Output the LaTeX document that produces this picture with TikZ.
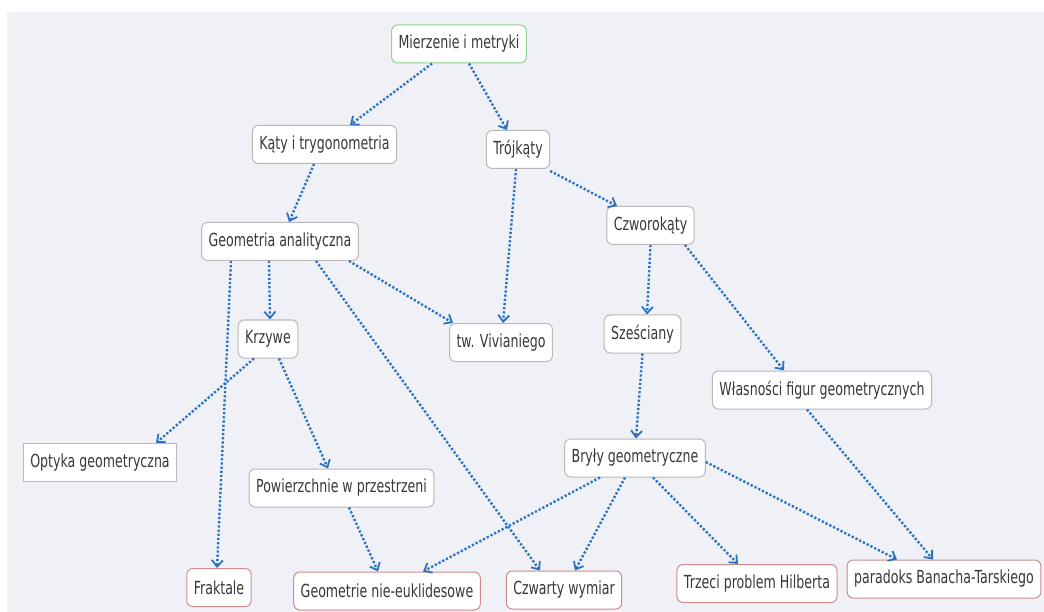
\documentclass[tikz,border=0pt]{standalone}
\usepackage{fontspec}
\setmainfont{DejaVu Sans}[FakeStretch=0.70]
\usetikzlibrary{arrows.meta}
\definecolor{bgpane}{HTML}{F0F1F7}
\definecolor{linkblue}{HTML}{2B72C2}
\definecolor{boxgray}{HTML}{B8B8B8}
\definecolor{rootgreen}{HTML}{8ED38E}
\definecolor{leafred}{HTML}{D08C8C}
\definecolor{txtgray}{HTML}{383838}
\tikzset{
  topicbox/.style={draw=boxgray,line width=1pt,fill=white,rounded corners=6pt,minimum height=38pt,inner xsep=7pt,text=txtgray,font=\fontsize{18}{21}\selectfont},
  rootbox/.style={topicbox,draw=rootgreen},
  leafbox/.style={topicbox,draw=leafred},
  squarebox/.style={topicbox,sharp corners},
  link/.style={linkblue,line width=2.4pt,dash pattern=on 2.2pt off 2pt,-{Straight Barb[length=6.5pt,width=11pt,line width=1.8pt]}}
}
\begin{document}
\begin{tikzpicture}[x=1pt,y=-1pt]
\useasboundingbox (0,0) rectangle (1044,612);
\fill[white] (0,0) rectangle (1044,612);
\fill[bgpane] (7,12) rectangle (1044,612);
% boxes
\node[rootbox] (mier) at (459,44) {Mierzenie i metryki};
\node[topicbox] (katy) at (324.5,144.5) {Kąty i trygonometria};
\node[topicbox] (troj) at (518,149.5) {Trójkąty};
\node[topicbox] (geo) at (280,241.5) {Geometria analityczna};
\node[topicbox] (czwo) at (650.5,225.5) {Czworokąty};
\node[topicbox] (krzy) at (268,339) {Krzywe};
\node[topicbox] (viv) at (501,342.5) {tw. Vivianiego};
\node[topicbox] (szes) at (642.5,334) {Sześciany};
\node[topicbox] (wlas) at (822,390) {Własności figur geometrycznych};
\node[squarebox] (opt) at (100,462.5) {Optyka geometryczna};
\node[topicbox] (bryl) at (635,458) {Bryły geometryczne};
\node[topicbox] (pow) at (341.5,488) {Powierzchnie w przestrzeni};
\node[leafbox] (frak) at (219,587.5) {Fraktale};
\node[leafbox] (nieeu) at (387,591) {Geometrie nie-euklidesowe};
\node[leafbox] (czwa) at (564,590) {Czwarty wymiar};
\node[leafbox] (trzec) at (757,583.5) {Trzeci problem Hilberta};
\node[leafbox] (para) at (944,579) {paradoks Banacha-Tarskiego};
% links
\draw[link] ([xshift=-27pt]mier.south) -- ([xshift=25.5pt]katy.north);
\draw[link] ([xshift=10pt]mier.south) -- ([xshift=-11pt]troj.north);
\draw[link] ([xshift=-10.5pt]katy.south) -- ([xshift=9pt]geo.north);
\draw[link] ([xshift=-2pt]troj.south) -- ([xshift=2pt]viv.north);
\draw[link] ([yshift=-2pt]troj.south east) -- ([xshift=-33.5pt]czwo.north);
\draw[link] ([xshift=-11pt]geo.south) -- ([xshift=2pt]krzy.north);
\draw[link] ([xshift=69pt]geo.south) -- ([xshift=-48pt]viv.north);
\draw[link] ([xshift=-49pt]geo.south) -- ([xshift=-2pt]frak.north);
\draw[link] ([xshift=36pt]geo.south) -- ([xshift=-24pt]czwa.north);
\draw[link] ([xshift=-14pt]krzy.south) -- ([xshift=56pt]opt.north);
\draw[link] ([xshift=11pt]krzy.south) -- ([xshift=-13.5pt]pow.north);
\draw[link] ([xshift=7.5pt]pow.south) -- ([xshift=-9pt]nieeu.north);
\draw[link] (czwo.south) -- ([xshift=4.5pt]szes.north);
\draw[link] ([xshift=34.5pt]czwo.south) -- ([xshift=-38pt]wlas.north);
\draw[link] (szes.south) -- ([xshift=1pt]bryl.north);
\draw[link] ([xshift=-35pt]bryl.south) -- ([xshift=36pt]nieeu.north);
\draw[link] ([xshift=-10pt]bryl.south) -- ([xshift=11pt]czwa.north);
\draw[link] ([xshift=18pt]bryl.south) -- ([xshift=-19pt]trzec.north);
\draw[link] ([yshift=-4pt]bryl.east) -- ([xshift=-47pt]para.north);
\draw[link] ([xshift=-15pt]wlas.south) -- ([xshift=-11pt]para.north);
\end{tikzpicture}
\end{document}
